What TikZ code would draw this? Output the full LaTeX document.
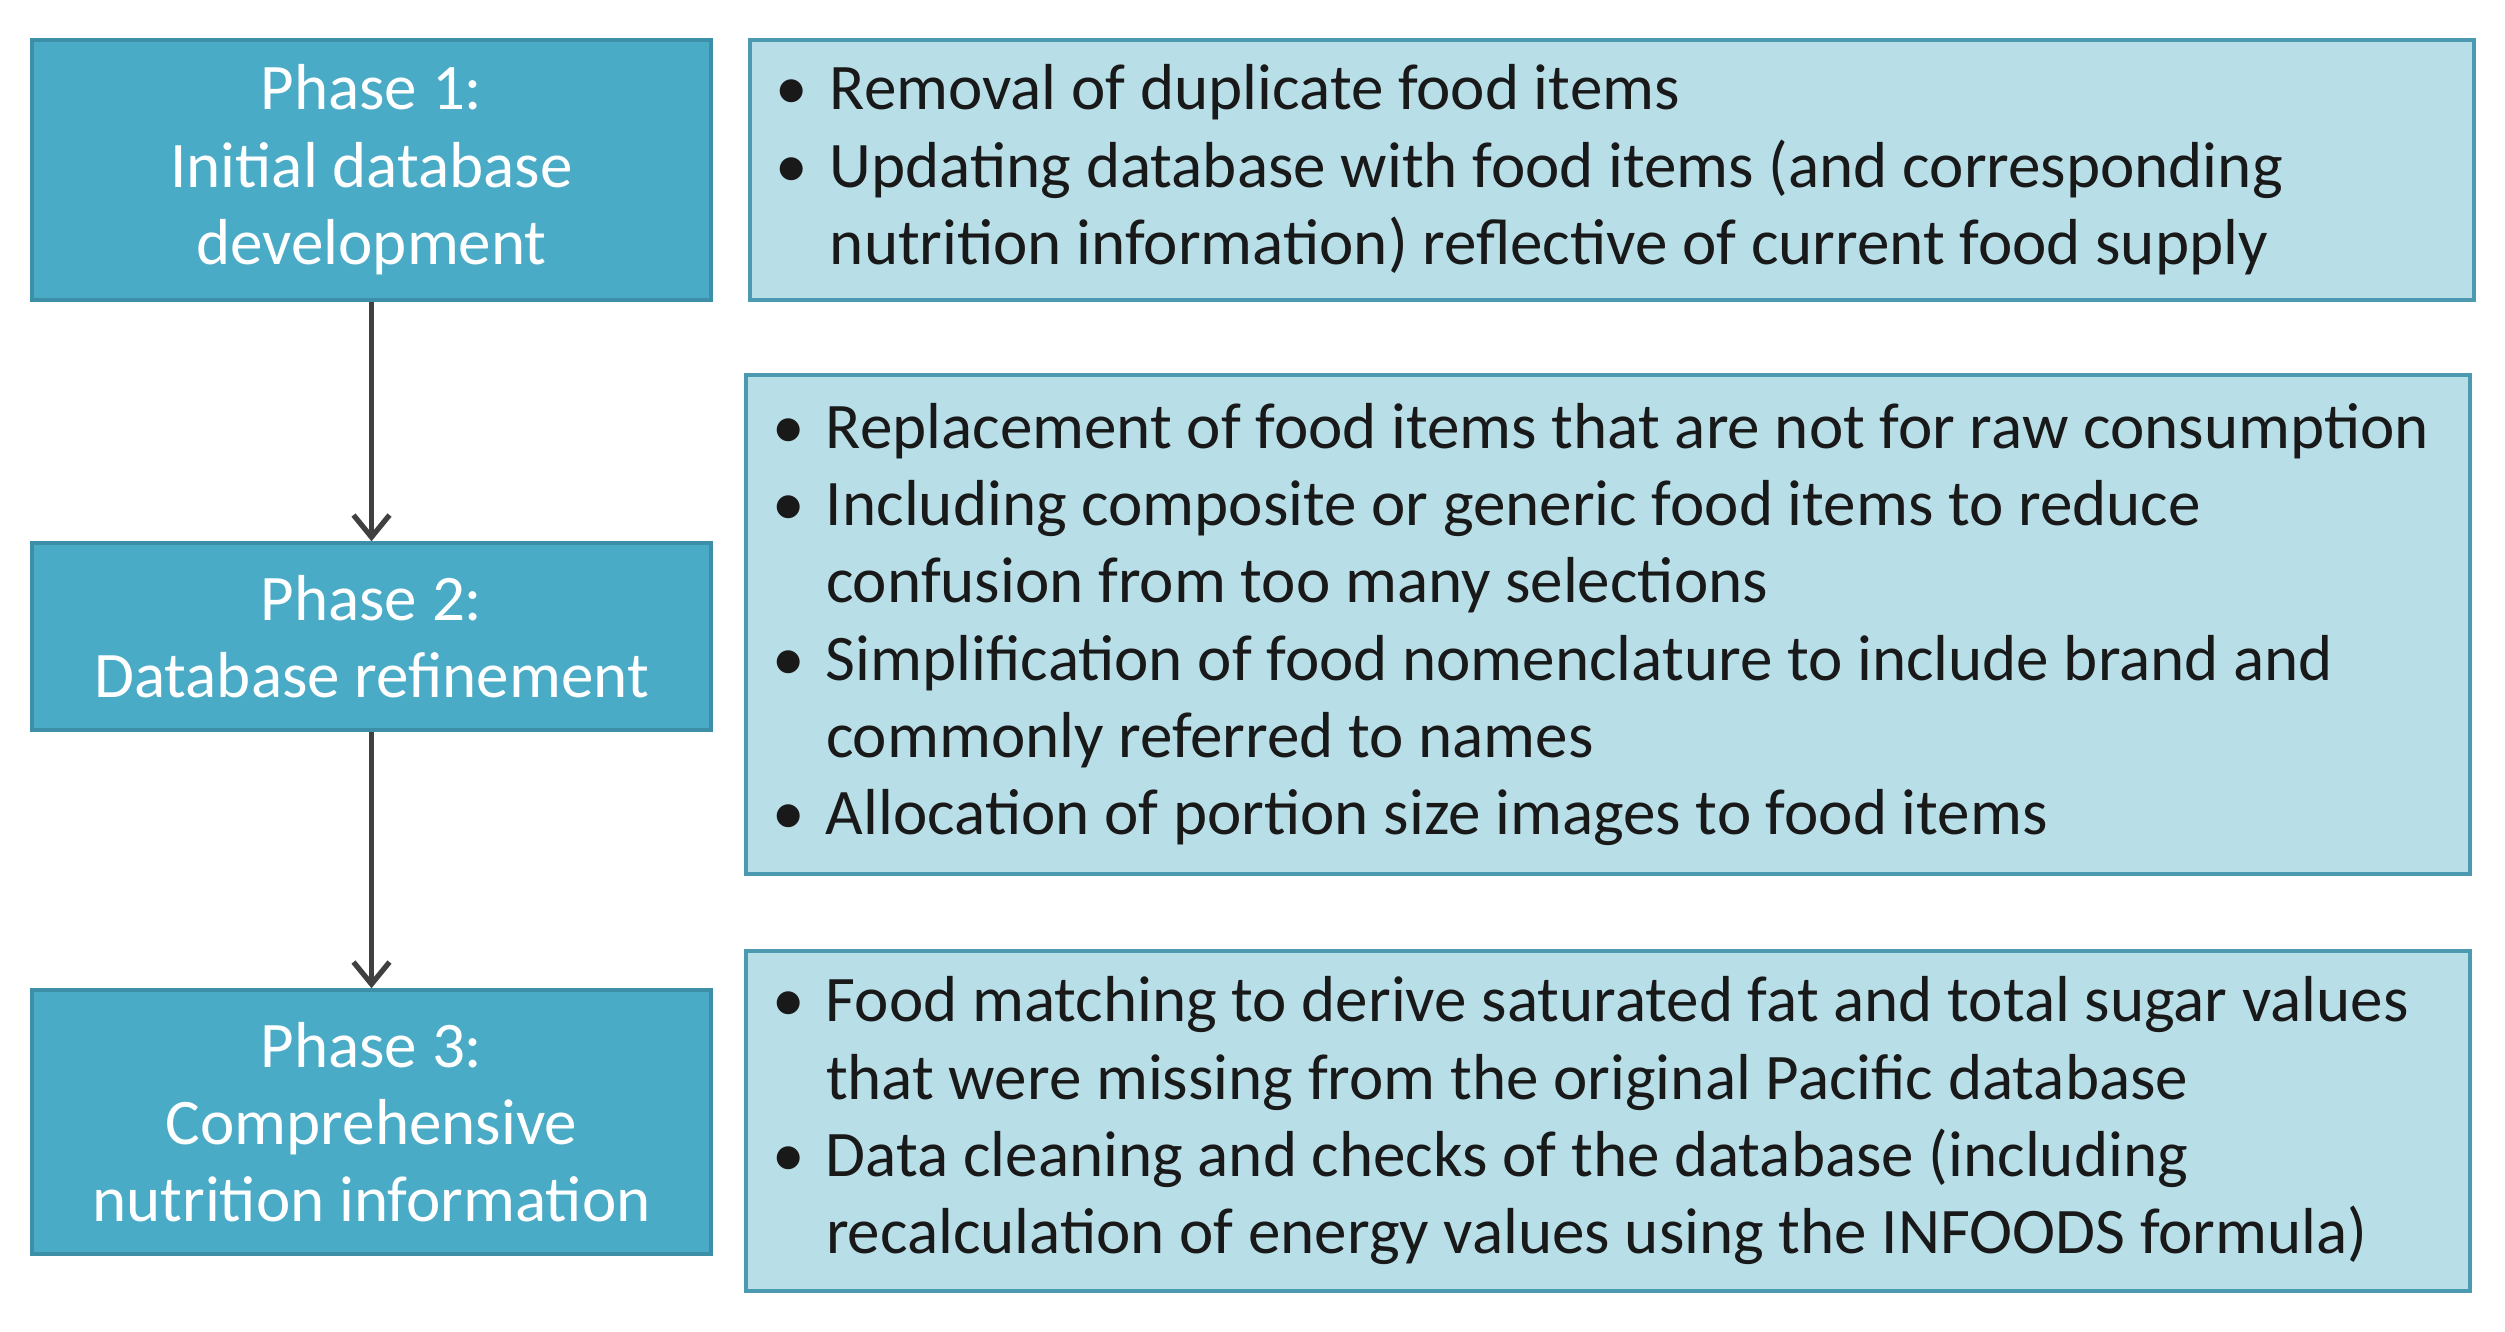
\documentclass[tikz,border=0pt]{standalone}
\usepackage{fontspec}
\setmainfont{Carlito}
\usepackage{xcolor}
\usepackage{tikz}
\usetikzlibrary{positioning, arrows.meta}
\definecolor{phaseblue}{rgb}{0.29, 0.67, 0.78}
\definecolor{phaseedge}{rgb}{0.24, 0.56, 0.66}
\definecolor{paleblue}{rgb}{0.72, 0.87, 0.91}
\definecolor{paleedge}{rgb}{0.30, 0.60, 0.70}
\definecolor{arrowgrey}{rgb}{0.25, 0.25, 0.25}
\newcommand{\bitem}[1]{{\leftskip=0.06cm\hangindent=0.54cm\hangafter=1\noindent\makebox[0.54cm][l]{\textbullet}#1\par}}

\begin{document}
\begin{tikzpicture}
	\tikzstyle{phase}=[draw=phaseedge, line width=1pt, fill=phaseblue, text=white, minimum width=6.79cm, align=center, font=\fontsize{18.5}{22}\selectfont]
	\tikzstyle{steps}=[draw=paleedge, line width=1.2pt, fill=paleblue, text=black!90, text width=16.84cm, inner xsep=0.2cm, inner ysep=0pt, align=flush left, font=\fontsize{18.5}{22}\selectfont]
	\tikzstyle{flow}=[arrowgrey, line width=1.5pt, -{Straight Barb[length=2.2mm, width=3.6mm]}]
	
	\useasboundingbox (0,0) rectangle (25.05,-13.32);
	
	%% phases on the left
	\node [phase, minimum height=2.60cm] (P1) at (3.715,-1.70) {Phase 1:\\Initial database\\development};
	\node [phase, minimum height=1.87cm] (P2) at (3.715,-6.365) {Phase 2:\\Database refinement};
	\node [phase, minimum height=2.64cm] (P3) at (3.715,-11.22) {Phase 3:\\Comprehensive\\nutrition information};
	
	\draw [flow] (P1.south) -- (P2.north);
	\draw [flow] (P2.south) -- (P3.north);
	
	%% steps on the right
	\node [steps, minimum height=2.60cm, right=0.35cm of P1] (S1) {%
		\bitem{Removal of duplicate food items}
		\bitem{Updating database with food items (and corresponding\newline nutrition information) reflective of current food supply}};
	\node [steps, minimum height=4.99cm] (S2) at (16.08,-6.245) {%
		\bitem{Replacement of food items that are not for raw consumption}
		\bitem{Including composite or generic food items to reduce\newline confusion from too many selections}
		\bitem{Simplification of food nomenclature to include brand and\newline commonly referred to names}
		\bitem{Allocation of portion size images to food items}};
	\node [steps, minimum height=3.40cm] (S3) at (16.08,-11.21) {%
		\bitem{Food matching to derive saturated fat and total sugar values\newline that were missing from the original Pacific database}
		\bitem{Data cleaning and checks of the database (including\newline recalculation of energy values using the INFOODS formula)}};
\end{tikzpicture}
\end{document}
